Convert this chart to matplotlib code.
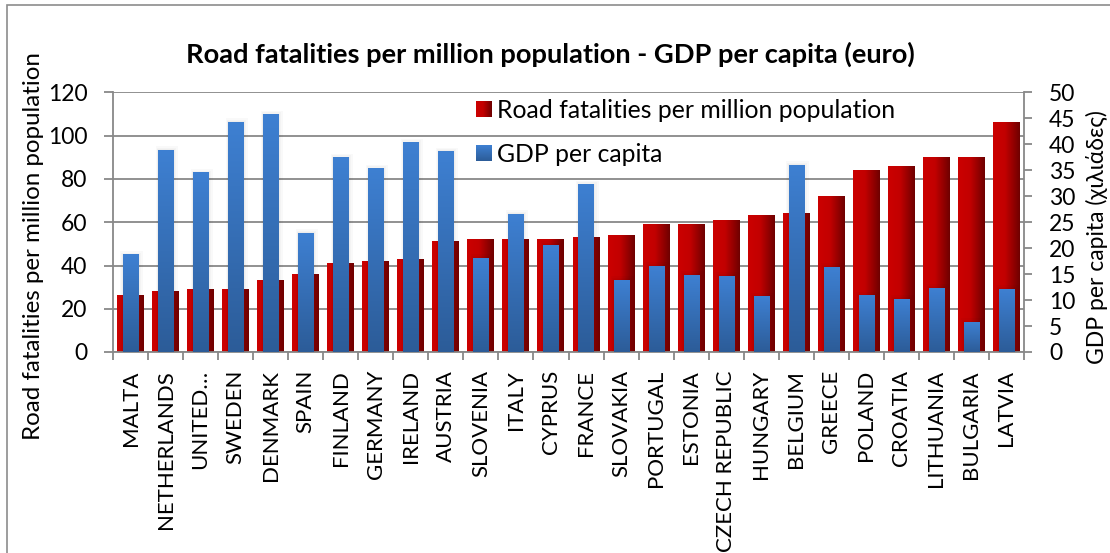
import numpy as np
import matplotlib
matplotlib.use("Agg")
import matplotlib.pyplot as plt
from matplotlib.colors import LinearSegmentedColormap
from matplotlib.patches import Rectangle

countries = ["MALTA", "NETHERLANDS", "UNITED…", "SWEDEN", "DENMARK", "SPAIN",
             "FINLAND", "GERMANY", "IRELAND", "AUSTRIA", "SLOVENIA", "ITALY",
             "CYPRUS", "FRANCE", "SLOVAKIA", "PORTUGAL", "ESTONIA",
             "CZECH REPUBLIC", "HUNGARY", "BELGIUM", "GREECE", "POLAND",
             "CROATIA", "LITHUANIA", "BULGARIA", "LATVIA"]
fatalities = [26, 28, 29, 29, 33, 36, 41, 42, 43, 51, 52, 52, 52, 53, 54, 59,
              59, 61, 63, 64, 72, 84, 86, 90, 90, 106]
gdp = [18.7, 38.9, 34.5, 44.3, 45.7, 22.9, 37.4, 35.3, 40.3, 38.6, 18.1, 26.5,
       20.6, 32.2, 13.8, 16.5, 14.8, 14.6, 10.6, 36.0, 16.3, 10.8, 10.2, 12.3,
       5.7, 12.1]
left_ticks = [0, 20, 40, 60, 80, 100, 120]
right_ticks = [0, 5, 10, 15, 20, 25, 30, 35, 40, 45, 50]

title = "Road fatalities per million population - GDP per capita (euro)"
label_fat = "Road fatalities per million population"
label_gdp = "GDP per capita"
right_label = "GDP per capita (χιλιάδες)"

plt.rcParams["font.family"] = ["Lato", "Open Sans", "DejaVu Sans"]
FS_TICK = 16.5
FS_CAT = 16
FS_TEXT = 17.8
GRID = "#888888"

red_cmap = LinearSegmentedColormap.from_list(
    "red_fill", [(0.0, "#cc0000"), (0.45, "#c20000"), (1.0, "#6e0000")])
blue_cmap = LinearSegmentedColormap.from_list(
    "blue_fill", [(0.0, "#2c5c98"), (1.0, "#3e80d2")])

W, H = 1110, 553
fig = plt.figure(figsize=(W / 100, H / 100), dpi=100)
fig.patch.set_facecolor("white")

ax = fig.add_axes([113 / W, 1 - 352 / H, (1024 - 113) / W, (352 - 92.5) / H])
ax2 = ax.twinx()

x = np.arange(len(countries))


def gradient_fill(axis, patch, cmap, horizontal):
    x0, y0 = patch.get_x(), patch.get_y()
    w, h = patch.get_width(), patch.get_height()
    if horizontal:
        grad = np.linspace(0, 1, 256).reshape(1, -1)
    else:
        grad = np.linspace(0, 1, 256).reshape(-1, 1)
    axis.imshow(grad, cmap=cmap, extent=[x0, x0 + w, y0, y0 + h],
                origin="lower", aspect="auto", interpolation="bilinear",
                zorder=patch.get_zorder())
    patch.set_facecolor("none")
    patch.set_edgecolor("none")


# Road fatalities: wide bars on the left axis, horizontal shading
red_bars = ax.bar(x, fatalities, width=0.77, zorder=2)
for p in red_bars:
    gradient_fill(ax, p, red_cmap, True)

# GDP per capita: narrow bars on the right axis, soft shadow + vertical shading
blue_bars = ax2.bar(x, gdp, width=0.43, zorder=3)
px_x = 1 / 35.04
px_y = 50 / 259.0
for p in blue_bars:
    for k in (5, 3, 1.5):
        ax2.add_patch(Rectangle((p.get_x() - k * px_x * 0.5, 0),
                                p.get_width() + k * px_x * 1.5,
                                p.get_height() + k * px_y * 0.8,
                                facecolor="#000000", alpha=0.025,
                                edgecolor="none", zorder=2.5))
    gradient_fill(ax2, p, blue_cmap, False)

ax.set_xlim(-0.5, len(countries) - 0.5)
ax.set_ylim(0, 120)
ax2.set_ylim(0, 50)
ax2.set_xlim(-0.5, len(countries) - 0.5)

ax.set_axisbelow(True)
ax.yaxis.grid(True, color=GRID, linewidth=1.3)
ax.set_yticks(left_ticks)
ax2.set_yticks(right_ticks)

ax.set_xticks(x)
ax.set_xticklabels(countries, rotation=90, fontsize=FS_CAT)
ax.set_xticks(np.arange(-0.5, len(countries), 1.0), minor=True)
ax.tick_params(axis="x", which="major", length=0, pad=13)
ax.tick_params(axis="x", which="minor", length=5.5, color=GRID, width=1.3,
               direction="out")
ax.tick_params(axis="y", length=6.5, color=GRID, width=1.3, pad=12,
               labelsize=FS_TICK)
ax2.tick_params(axis="y", length=6, color=GRID, width=1.3, pad=12,
                labelsize=FS_TICK)

for a in (ax, ax2):
    a.spines["top"].set_visible(False)
    for side in ("left", "right", "bottom"):
        a.spines[side].set_color(GRID)
        a.spines[side].set_linewidth(1.3)
ax.spines["right"].set_visible(False)
ax2.spines["left"].set_visible(False)
ax2.spines["bottom"].set_visible(False)
ax2.patch.set_visible(False)

fig.text(550 / W, 1 - 54 / H, title, ha="center", va="center",
         fontsize=19.6, fontweight="bold")
fig.text(34 / W, 1 - 246 / H, label_fat, rotation=90, ha="center",
         va="center", fontsize=17.4)
fig.text(1097 / W, 1 - 237 / H, right_label, rotation=90, ha="center",
         va="center", fontsize=16.5)

# Legend drawn inside the plot area
for (y_c, cmap, horiz, text) in ((108.7, red_cmap, True, label_fat),
                                 (153.0, blue_cmap, False, label_gdp)):
    sw = fig.add_axes([476 / W, 1 - (y_c + 8) / H, 15.5 / W, 16 / H])
    grad = (np.linspace(0, 1, 64).reshape(1, -1) if horiz
            else np.linspace(0, 1, 64).reshape(-1, 1))
    sw.imshow(grad, cmap=cmap, origin="lower", aspect="auto")
    sw.set_axis_off()
    fig.text(497 / W, 1 - y_c / H, text, ha="left", va="center_baseline",
             fontsize=FS_TEXT)

# Outer chart border
fig.add_artist(Rectangle((7 / W, -0.05), 1.1, 1.05 - 4.5 / H,
                         transform=fig.transFigure, fill=False,
                         edgecolor="#8c8c8c", linewidth=1.2))

fig.savefig("out.png", dpi=100)
